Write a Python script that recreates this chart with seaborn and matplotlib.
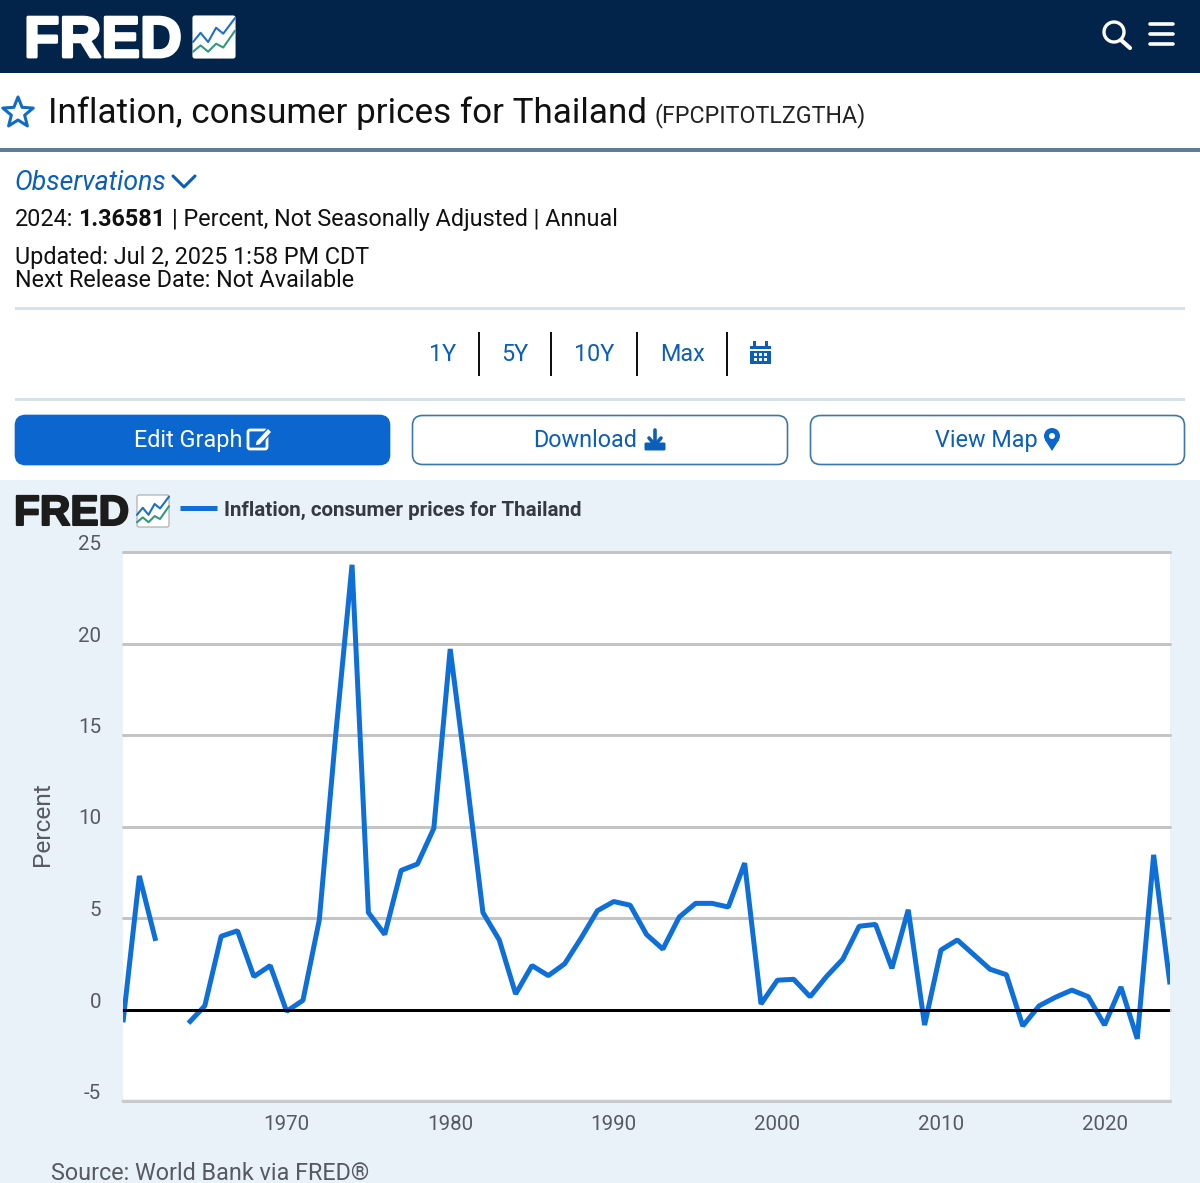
import numpy as np
import pandas as pd
import matplotlib
matplotlib.use("Agg")
import matplotlib.pyplot as plt
from matplotlib.patches import Rectangle, FancyBboxPatch, Polygon, Circle
from matplotlib.transforms import ScaledTranslation
import matplotlib.patheffects as pe
import seaborn as sns

years = list(range(1960, 2025))
inflation = [-0.7, 7.3, 3.75, np.nan, -0.75, 0.2, 4.0, 4.3, 1.8, 2.4,
             -0.1, 0.5, 4.9, 15.0, 24.3, 5.3, 4.1, 7.6, 7.95, 9.9,
             19.7, 12.7, 5.3, 3.8, 0.85, 2.4, 1.85, 2.5, 3.9, 5.4,
             5.9, 5.7, 4.1, 3.3, 5.05, 5.8, 5.8, 5.6, 8.0, 0.3,
             1.6, 1.65, 0.7, 1.8, 2.75, 4.55, 4.65, 2.25, 5.45, -0.85,
             3.25, 3.8, 3.0, 2.2, 1.9, -0.9, 0.2, 0.67, 1.06, 0.7,
             -0.85, 1.23, -1.6, 8.45, 1.37]
series_name = "Inflation, consumer prices for Thailand"
y_ticks = [-5, 0, 5, 10, 15, 20, 25]
x_ticks = [1970, 1980, 1990, 2000, 2010, 2020]
range_buttons = [("1Y", 443), ("5Y", 515), ("10Y", 594), ("Max", 682)]

W, H = 1200, 1183
BLUE = "#0f6fd8"
LINK = "#0b5fb8"
GREY = "#555b60"
BODY = 23.4
sns.set_theme(style="white")
plt.rcParams["font.family"] = ["Roboto", "DejaVu Sans"]
PX = 0.72

fig = plt.figure(figsize=(W / 100, H / 100), dpi=100, facecolor="white")
page = fig.add_axes([0, 0, 1, 1], zorder=0)
page.set_xlim(0, W); page.set_ylim(H, 0); page.axis("off")

def rect(x0, y0, x1, y1, color, **kw):
    page.add_patch(Rectangle((x0, y0), x1 - x0, y1 - y0, facecolor=color, edgecolor="none", **kw))

def txt(x, y, s, px, color="#111111", **kw):
    kw.setdefault("va", "baseline")
    return page.text(x, y, s, fontsize=px * PX, color=color, **kw)

def icon_line(xs, ys, color, lw=2.0, **kw):
    page.plot(xs, ys, color=color, lw=lw, solid_capstyle=kw.pop("cap", "round"), solid_joinstyle="round", **kw)

def logo(x, base, px, color, box_x, box_y, box_w, box_h, box_edge):
    t = txt(x, base, "FRED", px, color, fontweight="bold", family="Liberation Sans")
    t.set_path_effects([pe.withStroke(linewidth=px * 0.035, foreground=color)])
    page.add_patch(FancyBboxPatch((box_x + 2, box_y + 2), box_w - 4, box_h - 4, boxstyle="round,pad=2",
                                  facecolor="white", edgecolor=box_edge, lw=0.8))
    fx = np.array([0, .18, .36, .55, .72, 1.0])
    blue = np.array([.62, .40, .62, .28, .42, .05])
    green = np.array([.85, .70, .85, .66, .75, .35])
    icon_line(box_x + fx * box_w, box_y + blue * box_h, "#1f6fc4", lw=1.5)
    icon_line(box_x + fx * box_w, box_y + green * box_h, "#2f9a7e", lw=1.5)

# page chrome
rect(0, 0, W, 73, "#03244a")
logo(24, 57, 58, "white", 193, 16, 42, 42, "white")
page.add_patch(Circle((1114, 32), 10, facecolor="none", edgecolor="white", lw=2.4))
icon_line([1121, 1130], [40, 48], "white", lw=3)
for yy in (24, 34, 44):
    icon_line([1150, 1173], [yy, yy], "white", lw=2.6)

a = np.deg2rad(np.arange(0, 360, 36) - 90)
r = np.where(np.arange(10) % 2 == 0, 16, 7)
page.add_patch(Polygon(np.c_[18 + r * np.cos(a), 113 + r * np.sin(a)], closed=True, facecolor="none",
                       edgecolor="#0f6cc4", lw=2.2, joinstyle="round"))
txt(48, 123, series_name, 35.0, "#111111")
txt(654, 122, "(FPCPITOTLZGTHA)", 23.2, "#222222")
rect(0, 148, W, 152, "#5d7c99")

txt(15, 190, "Observations", 26.6, LINK, style="italic")
icon_line([173, 184, 195], [176, 187, 176], LINK, lw=2.2)
txt(15, 226, "2024:", BODY, "#111111")
txt(78, 226, "1.36581", BODY, "#111111", fontweight="bold")
txt(172, 226, "| Percent, Not Seasonally Adjusted | Annual", BODY, "#111111")
txt(15, 264, "Updated: Jul 2, 2025 1:58 PM CDT", BODY, "#111111")
txt(15, 287, "Next Release Date: Not Available", BODY, "#111111")
rect(15, 307, 1185, 310, "#d5e3e8")

for label, cx in range_buttons:
    txt(cx, 361, label, BODY, LINK, ha="center")
for sx in (479, 551, 637, 727):
    rect(sx - 1, 332, sx + 1, 376, "#111111")
rect(750, 346, 771, 364, "#0b5fb8")
rect(753, 341, 756, 347, "#0b5fb8"); rect(765, 341, 768, 347, "#0b5fb8")
rect(750, 349, 771, 351, "white")
for gx in (754, 759, 764):
    for gy in (353, 358):
        rect(gx, gy, gx + 3, gy + 3, "white")
rect(15, 398, 1185, 401, "#d5e3e8")

def button(x0, x1, label, cx, filled):
    page.add_patch(FancyBboxPatch((x0 + 10.5, 425.5), x1 - x0 - 21, 29, boxstyle="round,pad=10",
                                  facecolor="#0b66cf" if filled else "white",
                                  edgecolor="#0b66cf" if filled else "#3f76a8", lw=1.2))
    txt(cx, 447, label, BODY, "white" if filled else LINK, ha="center")

button(15, 390, "Edit Graph", 188, True)
button(412, 788, "Download", 585, False)
button(810, 1185, "View Map", 986, False)
# button icons
page.add_patch(FancyBboxPatch((250, 432), 15, 15, boxstyle="round,pad=2", facecolor="none", edgecolor="white", lw=2))
page.add_patch(Polygon([[256, 441], [268, 428], [272, 432], [260, 445], [255, 446]], closed=True, facecolor="white", edgecolor="#0b66cf", lw=1))
icon_line([655, 655], [430, 444], LINK, lw=2.6)
icon_line([649, 655, 661], [438, 445, 438], LINK, lw=2.6)
page.add_patch(FancyBboxPatch((646, 444), 18, 5, boxstyle="round,pad=1.5", facecolor=LINK, edgecolor="none"))
page.add_patch(Circle((1052, 436), 8, facecolor="#0b66cf", edgecolor="none"))
page.add_patch(Polygon([[1045, 440], [1059, 440], [1052, 451]], closed=True, facecolor="#0b66cf", edgecolor="none"))
page.add_patch(Circle((1052, 436), 3, facecolor="white", edgecolor="none"))

# chart panel
rect(0, 480, W, H, "#e9f1f9")
logo(14, 525, 42.3, "#1c1c1c", 137, 495, 32, 32, "#a8a8a8")

L, R, T, B = 123, 1170, 552, 1101
ax = fig.add_axes([L / W, 1 - B / H, (R - L) / W, (B - T) / H], zorder=2, facecolor="white")
df = pd.DataFrame({"year": years, "value": inflation})
df["segment"] = df["value"].isna().cumsum()
df = df.dropna()
sns.lineplot(data=df, x="year", y="value", units="segment", estimator=None, ax=ax,
             color=BLUE, lw=5 * PX, label=series_name, zorder=3, legend=False,
             solid_joinstyle="bevel", solid_capstyle="butt")
ax.set_xlim(1960, 2024)
ax.set_ylim(-5, 25)
ax.axhline(0, color="black", lw=3 * PX, zorder=4)
ax.set_yticks(y_ticks)
ax.set_xticks(x_ticks)
ax.set_yticklabels([str(v) for v in y_ticks], fontsize=20.5 * PX, color=GREY, va="bottom")
ax.set_xticklabels([str(v) for v in x_ticks], fontsize=20.5 * PX, color=GREY)
ax.tick_params(axis="y", length=0, pad=22 * PX)
ax.tick_params(axis="x", length=10 * PX, width=1 * PX, color="#c9ccd0", pad=4 * PX)
down2 = ScaledTranslation(0, -2 * PX / 72, fig.dpi_scale_trans)
for lab in ax.get_yticklabels():
    lab.set_transform(lab.get_transform() + down2)
ax.grid(axis="y", color="#c4c4c4", lw=3 * PX, zorder=1)
for gl in ax.get_ygridlines():
    gl.set_clip_on(False)
ax.set_axisbelow(True)
for side in ("top", "left", "right"):
    ax.spines[side].set_visible(False)
ax.spines["bottom"].set_color("#c8cbcf")
ax.spines["bottom"].set_linewidth(2.5 * PX)
ax.set_xlabel("")
ax.set_ylabel("Percent", fontsize=24.4 * PX, color=GREY)
ax.yaxis.set_label_coords((54 - L) / (R - L), 0.505)
handles = ax.get_lines()[:1]
ax.legend(handles, [series_name], loc="center left", bbox_to_anchor=(180, 510), bbox_transform=page.transData,
          frameon=False, borderpad=0, borderaxespad=0, handlelength=37 / 20.5, handletextpad=7 / 20.5,
          prop={"size": 20.5 * PX, "weight": "bold"}, labelcolor="#333a40")
txt(51, 1180, "Source: World Bank via FRED®", 23.4, GREY)

fig.savefig("out.png", dpi=100, facecolor="white")
